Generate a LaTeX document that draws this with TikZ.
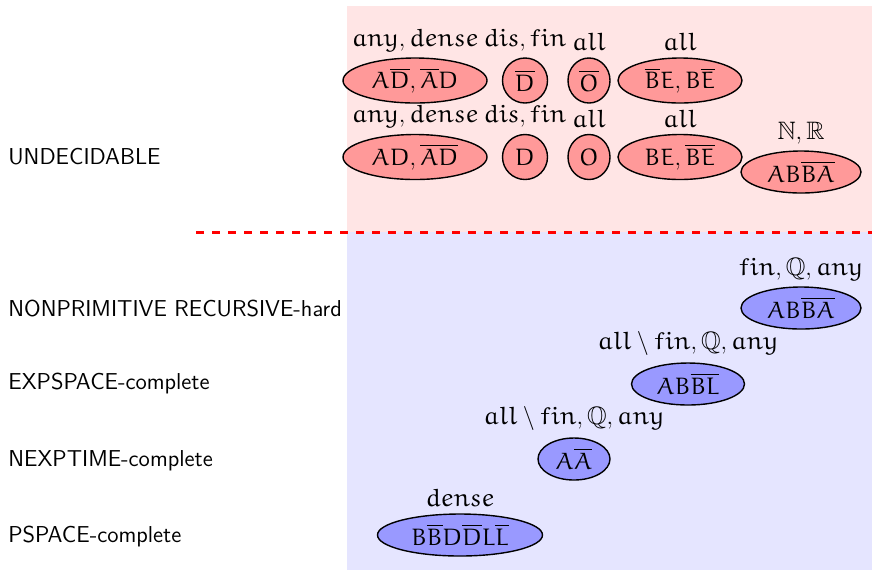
\documentclass[tikz,border=0pt]{standalone}
\usepackage{amsmath,amssymb}
\DeclareMathAlphabet{\eu}{U}{eur}{m}{n}
\usetikzlibrary{shapes.geometric}
\definecolor{pinkbg}{RGB}{255,229,229}
\definecolor{bluebg}{RGB}{229,229,255}
\definecolor{pinkfill}{RGB}{255,153,153}
\definecolor{bluefill}{RGB}{153,153,255}
\tikzset{
  ell/.style={ellipse, draw=black, line width=0.7pt, inner sep=0.5pt,
    font=\fontsize{11.9}{14}\selectfont, label distance=0pt},
  redell/.style={ell, fill=pinkfill},
  blueell/.style={ell, fill=bluefill},
  classlab/.style={anchor=base west, inner sep=0pt, font=\fontsize{11.5}{13}\selectfont\sffamily},
  every label/.style={font=\fontsize{12.6}{15}\selectfont, inner sep=3pt},
  sep/.style={draw=red, line width=1.5pt, dash pattern=on 4pt off 4pt},
}
\begin{document}
\begin{tikzpicture}[x=0.5pt,y=-0.5pt]
\useasboundingbox (0,0) rectangle (872,570);
\fill[pinkbg] (347,6) rectangle (872,232);
\fill[bluebg] (347,232) rectangle (872,570);
\coordinate (sepL) at (196,232);
\coordinate (sepR) at (872,232);
\draw[sep] (sepL) -- (sepR);

% class labels
\node[classlab] (undec) at (8,164) {UNDECIDABLE};
\node[classlab] (nprh) at (8,316) {NONPRIMITIVE RECURSIVE-hard};
\node[classlab] (exps) at (8,389) {EXPSPACE-complete};
\node[classlab] (nexp) at (8,466) {NEXPTIME-complete};
\node[classlab] (pspc) at (8,542) {PSPACE-complete};

% undecidable row 1
\node[redell, minimum width=72pt, minimum height=22.5pt, label={above:$\eu{any}, \eu{dense}$}] (r1a) at (415,80.5) {$\eu{A\overline{D}}, \eu{\overline{A}D}$};
\node[redell, minimum width=22.5pt, minimum height=22.5pt, label={above:$\eu{dis}, \eu{fin}$}] (r1b) at (525,80.5) {$\eu{\overline{D}}$};
\node[redell, minimum width=21pt, minimum height=22.5pt, label={above:$\eu{all}$}] (r1c) at (589,80.5) {$\eu{\overline{O}}$};
\node[redell, minimum width=62pt, minimum height=22.5pt, label={above:$\eu{all}$}] (r1d) at (680,80.5) {$\eu{\overline{B}E}, \eu{B\overline{E}}$};

% undecidable row 2
\node[redell, minimum width=72pt, minimum height=22.5pt, label={above:$\eu{any}, \eu{dense}$}] (r2a) at (415,157) {$\eu{AD}, \eu{\overline{AD}}$};
\node[redell, minimum width=22.5pt, minimum height=22.5pt, label={above:$\eu{dis}, \eu{fin}$}] (r2b) at (525,157) {$\eu{D}$};
\node[redell, minimum width=21pt, minimum height=22.5pt, label={above:$\eu{all}$}] (r2c) at (589,157) {$\eu{O}$};
\node[redell, minimum width=62pt, minimum height=22.5pt, label={above:$\eu{all}$}] (r2d) at (680,157) {$\eu{BE}, \eu{\overline{BE}}$};
\node[redell, minimum width=60pt, minimum height=21pt, label={above:$\mathbb{N}, \mathbb{R}$}] (r2e) at (801,172) {$\eu{AB\overline{BA}}$};

% decidable
\node[blueell, minimum width=60pt, minimum height=21pt, label={above:$\eu{fin}, \mathbb{Q}, \eu{any}$}] (b1) at (801,308) {$\eu{AB\overline{BA}}$};
\node[blueell, minimum width=56.5pt, minimum height=21pt, label={above:$\eu{all} \setminus \eu{fin}, \mathbb{Q}, \eu{any}$}] (b2) at (688,384) {$\eu{AB\overline{BL}}$};
\node[blueell, minimum width=36pt, minimum height=21pt, label={above:$\eu{all} \setminus \eu{fin}, \mathbb{Q}, \eu{any}$}] (b3) at (574,459) {$\eu{A\overline{A}}$};
\node[blueell, minimum width=82.5pt, minimum height=21pt, label={above:$\eu{dense}$}] (b4) at (460,535) {$\eu{B\overline{B}D\overline{D}L\overline{L}}$};
\end{tikzpicture}
\end{document}
